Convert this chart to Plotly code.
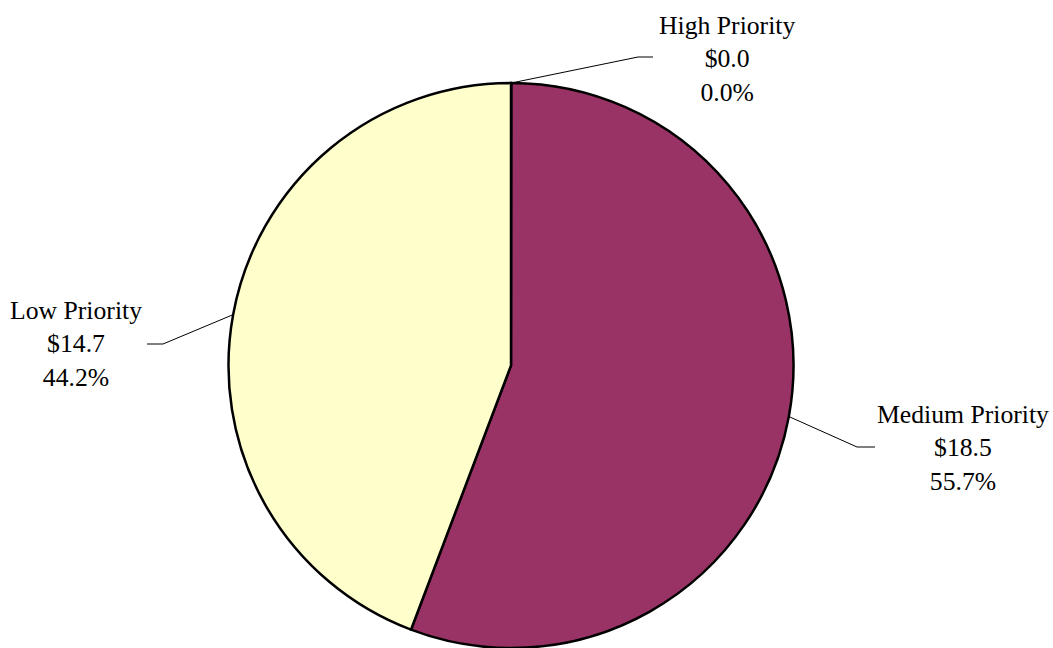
import math
import plotly.graph_objects as go

# Budget split by priority ($, millions)
labels = ["High Priority", "Medium Priority", "Low Priority"]
values = [0.007, 18.506, 14.688]
colors = ["#9999FF", "#993366", "#FFFFCC"]

W, H = 1053, 648
FONT = "Liberation Serif, Times New Roman, serif"

# pie placement (pixels)
cx, top = 511, 83
r = (H - top) / 2
cy = top + r

dom_x = [(cx - 300) / W, (cx + 300) / W]
dom_y = [0.0, (H - top) / H]


def px(x, y):
    return x / W, 1 - y / H


fig = go.Figure(
    go.Pie(
        labels=labels,
        values=values,
        sort=False,
        direction="clockwise",
        rotation=0,
        marker=dict(colors=colors, line=dict(color="black", width=2.5)),
        textinfo="none",
        hoverinfo="label+value+percent",
        domain=dict(x=dom_x, y=dom_y),
        showlegend=False,
    )
)

# label boxes: text centre, elbow of leader, end of horizontal leader (pixels)
label_pos = {
    "High Priority": dict(text=(727, 59), elbow=(638, 57), end=(653, 57)),
    "Medium Priority": dict(text=(963, 448), elbow=(857, 447), end=(875, 447)),
    "Low Priority": dict(text=(76, 344), elbow=(163, 344), end=(147, 344)),
}

total = sum(values)
cum = 0.0
shapes, annotations = [], []
for lab, v in zip(labels, values):
    frac = v / total
    mid = (cum + frac / 2) * 2 * math.pi
    cum += frac
    sx = cx + r * math.sin(mid)
    sy = cy - r * math.cos(mid)
    p = label_pos[lab]
    pts = [(sx, sy), p["elbow"], p["end"]]
    for (x0, y0), (x1, y1) in zip(pts[:-1], pts[1:]):
        a0, b0 = px(x0, y0)
        a1, b1 = px(x1, y1)
        shapes.append(dict(type="line", xref="paper", yref="paper",
                           x0=a0, y0=b0, x1=a1, y1=b1,
                           line=dict(color="black", width=1)))
    tx, ty = px(*p["text"])
    annotations.append(dict(
        xref="paper", yref="paper", x=tx, y=ty,
        xanchor="center", yanchor="middle", showarrow=False,
        text=f"{lab}<br>${v:.1f}<br>{frac * 100:.1f}%",
        font=dict(family=FONT, size=25.7, color="black"),
    ))

fig.update_layout(
    width=W, height=H,
    margin=dict(l=0, r=0, t=0, b=0),
    paper_bgcolor="white", plot_bgcolor="white",
    shapes=shapes, annotations=annotations,
    font=dict(family=FONT),
)

fig.write_html("out.html")
